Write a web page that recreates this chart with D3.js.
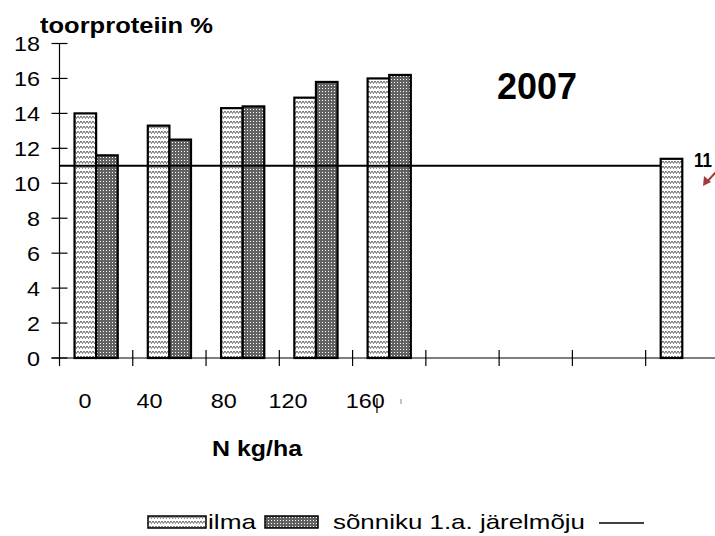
<!DOCTYPE html>
<html>
<head>
<meta charset="utf-8">
<script src="https://cdn.jsdelivr.net/npm/d3@7"></script>
<style>
  html, body { margin: 0; padding: 0; background: #fff; }
  svg { display: block; font-family: "Liberation Sans", Arial, sans-serif; }
</style>
</head>
<body>
<svg id="chart" width="715" height="536"></svg>
<script>
// N rates (kg/ha) on the category axis; trailing slots are unlabeled
const categories = ["0", "40", "80", "120", "160", "c5", "c6", "c7", "c8"];
const tickLabels = ["0", "40", "80", "120", "160", "", "", "", ""];
// crude protein %, no manure
const ilma = [14.0, 13.3, 14.3, 14.9, 16.0, null, null, null, 11.4];
// crude protein %, 1st-year after-effect of manure
const sonniku = [11.6, 12.5, 14.4, 15.8, 16.2, null, null, null, null];
// reference level line
const refLevel = 11;
const yTicks = [0, 2, 4, 6, 8, 10, 12, 14, 16, 18];
const seriesNames = ["ilma", "sõnniku 1.a. järelmõju"];

const svg = d3.select("#chart");
const font = "'Liberation Sans', Arial, sans-serif";

// fill patterns
const defs = svg.append("defs");
const pIlma = defs.append("pattern").attr("id", "pat-ilma")
  .attr("patternUnits", "userSpaceOnUse").attr("width", 6).attr("height", 5);
pIlma.append("rect").attr("width", 6).attr("height", 5).attr("fill", "#fff");
pIlma.append("path").attr("d", "M0,1 L1.5,3.5 L3,1 L4.5,3.5 L6,1")
  .attr("fill", "none").attr("stroke", "#555").attr("stroke-width", 0.9);

const pSon = defs.append("pattern").attr("id", "pat-son")
  .attr("patternUnits", "userSpaceOnUse").attr("width", 3).attr("height", 3);
pSon.append("rect").attr("width", 3).attr("height", 3).attr("fill", "#626262");
pSon.append("rect").attr("x", 1).attr("y", 1).attr("width", 1).attr("height", 1).attr("fill", "#fff");

// scales
const x = d3.scaleBand().domain(categories).range([59.5, 59.5 + 9 * 73.27]).padding(0);
const y = d3.scaleLinear().domain([0, 18]).range([358, 43.5]);
const barW = 21.6;

// bars
const bars = svg.append("g");
categories.forEach((c, i) => {
  const cx = x(c) + x.bandwidth() / 2;
  if (ilma[i] != null) {
    bars.append("rect")
      .attr("x", cx - barW).attr("y", y(ilma[i]))
      .attr("width", barW).attr("height", y(0) - y(ilma[i]))
      .attr("fill", "url(#pat-ilma)").attr("stroke", "#000").attr("stroke-width", 2.2);
  }
  if (sonniku[i] != null) {
    bars.append("rect")
      .attr("x", cx).attr("y", y(sonniku[i]))
      .attr("width", barW).attr("height", y(0) - y(sonniku[i]))
      .attr("fill", "url(#pat-son)").attr("stroke", "#000").attr("stroke-width", 2.2);
  }
});

// reference level line, ending at the last bar
const lastCat = categories[categories.length - 1];
svg.append("line")
  .attr("x1", x.range()[0]).attr("x2", x(lastCat) + x.bandwidth() / 2 - barW)
  .attr("y1", y(refLevel)).attr("y2", y(refLevel))
  .attr("stroke", "#000").attr("stroke-width", 2);

// y axis
const yAxis = svg.append("g");
yAxis.append("line").attr("x1", 59.5).attr("x2", 59.5)
  .attr("y1", y(18)).attr("y2", 366).attr("stroke", "#000").attr("stroke-width", 1.2);
yTicks.forEach(t => {
  yAxis.append("line").attr("x1", 51.5).attr("x2", 67.5)
    .attr("y1", y(t)).attr("y2", y(t)).attr("stroke", "#000").attr("stroke-width", 1.2);
  yAxis.append("text").attr("x", 40).attr("y", y(t) + 7.5)
    .attr("text-anchor", "end").attr("font-size", 21).attr("font-family", font)
    .attr("textLength", String(t).length * 13).attr("lengthAdjust", "spacingAndGlyphs")
    .text(t);
});

// x axis
const xAxis = svg.append("g");
xAxis.append("line").attr("x1", 51.5).attr("x2", 715)
  .attr("y1", y(0)).attr("y2", y(0)).attr("stroke", "#000").attr("stroke-width", 1.2);
categories.forEach((c, i) => {
  if (i > 0) {
    xAxis.append("line").attr("x1", x(c)).attr("x2", x(c))
      .attr("y1", 350).attr("y2", 366).attr("stroke", "#000").attr("stroke-width", 1.2);
  }
});
const labelShift = [-11, -20, -19, -28, -24, 0, 0, 0, 0];
categories.forEach((c, i) => {
  if (!tickLabels[i]) return;
  xAxis.append("text")
    .attr("x", x(c) + x.bandwidth() / 2 + labelShift[i]).attr("y", 408)
    .attr("text-anchor", "middle").attr("font-size", 21).attr("font-family", font)
    .attr("textLength", tickLabels[i].length * 13).attr("lengthAdjust", "spacingAndGlyphs")
    .text(tickLabels[i]);
});
// stray strokes near the last label
xAxis.append("line").attr("x1", 377).attr("x2", 377).attr("y1", 398).attr("y2", 413)
  .attr("stroke", "#000").attr("stroke-width", 1.2);
xAxis.append("line").attr("x1", 401).attr("x2", 401).attr("y1", 399).attr("y2", 404)
  .attr("stroke", "#888").attr("stroke-width", 1);

// titles
svg.append("text").attr("x", 40).attr("y", 33)
  .attr("font-size", 22).attr("font-weight", "bold").attr("font-family", font)
  .attr("textLength", 173).attr("lengthAdjust", "spacingAndGlyphs")
  .text("toorproteiin %");
svg.append("text").attr("x", 497).attr("y", 99)
  .attr("font-size", 37).attr("font-weight", "bold").attr("font-family", font)
  .attr("textLength", 80).attr("lengthAdjust", "spacingAndGlyphs")
  .text("2007");
svg.append("text").attr("x", 212).attr("y", 456)
  .attr("font-size", 22).attr("font-weight", "bold").attr("font-family", font)
  .attr("textLength", 90).attr("lengthAdjust", "spacingAndGlyphs")
  .text("N kg/ha");

// value label of the reference level at the right edge
svg.append("text").attr("x", 694).attr("y", 167)
  .attr("font-size", 21).attr("font-weight", "bold").attr("font-family", font)
  .attr("textLength", 18).attr("lengthAdjust", "spacingAndGlyphs")
  .text(String(refLevel));
// annotation arrow
const arrowColor = "#a33a3a";
svg.append("line").attr("x1", 716).attr("y1", 172).attr("x2", 706).attr("y2", 183)
  .attr("stroke", arrowColor).attr("stroke-width", 2);
svg.append("path").attr("d", "M703,186 L704,176 L711,182 Z").attr("fill", arrowColor);

// legend
const lg = svg.append("g");
lg.append("rect").attr("x", 148).attr("y", 516).attr("width", 58).attr("height", 12)
  .attr("fill", "url(#pat-ilma)").attr("stroke", "#000").attr("stroke-width", 1.5);
lg.append("text").attr("x", 208).attr("y", 529)
  .attr("font-size", 21).attr("font-family", font)
  .attr("textLength", 48).attr("lengthAdjust", "spacingAndGlyphs")
  .text(seriesNames[0]);
lg.append("rect").attr("x", 265).attr("y", 516).attr("width", 53).attr("height", 12)
  .attr("fill", "url(#pat-son)").attr("stroke", "#000").attr("stroke-width", 1.5);
lg.append("text").attr("x", 333).attr("y", 529)
  .attr("font-size", 21).attr("font-family", font)
  .attr("textLength", 252).attr("lengthAdjust", "spacingAndGlyphs")
  .text(seriesNames[1]);
lg.append("line").attr("x1", 599).attr("x2", 644).attr("y1", 523).attr("y2", 523)
  .attr("stroke", "#000").attr("stroke-width", 1.5);
</script>
</body>
</html>
